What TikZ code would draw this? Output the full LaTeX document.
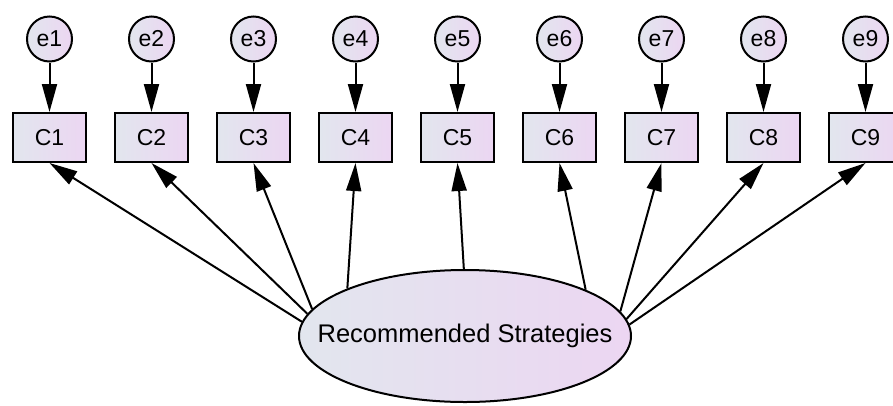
\documentclass[tikz,border=0pt]{standalone}
\usepackage{fontspec}
\setmainfont{Liberation Sans}
\usetikzlibrary{arrows.meta,shapes.geometric}
\definecolor{gL}{RGB}{226,230,238}
\definecolor{gR}{RGB}{236,214,242}
\begin{document}
\begin{tikzpicture}[x=1pt,y=-1pt,
  obs/.style={draw, line width=2pt, rectangle, minimum width=73pt, minimum height=49pt,
    inner sep=0pt, left color=gL, right color=gR, font=\fontsize{23}{27}\selectfont},
  err/.style={draw, circle, line width=2pt, minimum size=45pt, inner sep=0pt,
    left color=gL, right color=gR, font=\fontsize{23}{27}\selectfont},
  lat/.style={draw, ellipse, line width=2pt, minimum width=332pt, minimum height=132pt,
    inner sep=0pt, left color=gL, right color=gR},
  lbl/.style={inner sep=0pt, font=\fontsize{25.5}{30}\selectfont},
  arr/.style={line width=2pt, -{Triangle[length=28pt,width=15pt]}}
]
\useasboundingbox (0,0) rectangle (893,405);
\foreach \i in {1,...,9} {
  \pgfmathsetmacro{\xx}{49.5+102*(\i-1)}
  \node[err] (e\i) at (\xx,39) {e\i};
  \node[obs] (C\i) at (\xx,137.5) {C\i};
  \draw[arr] (e\i) -- (C\i);
}
\node[lat] (E) at (465,336) {};
\node[lbl] (Et) at (E.center) {Recommended Strategies};
\draw[arr] (E.175) -- (C1.south);
\draw[arr] (E.172.7) -- (C2.south);
\draw[arr] (E.170.5) -- (C3.south);
\draw[arr] (E.158.8) -- (C4.south);
\draw[arr] (E.91.7) -- (C5.south);
\draw[arr] (E.21.8) -- (C6.south);
\draw[arr] (E.9.6) -- (C7.south);
\draw[arr] (E.6.3) -- (C8.south);
\draw[arr] (E.4.5) -- (C9.south);
\end{tikzpicture}
\end{document}
